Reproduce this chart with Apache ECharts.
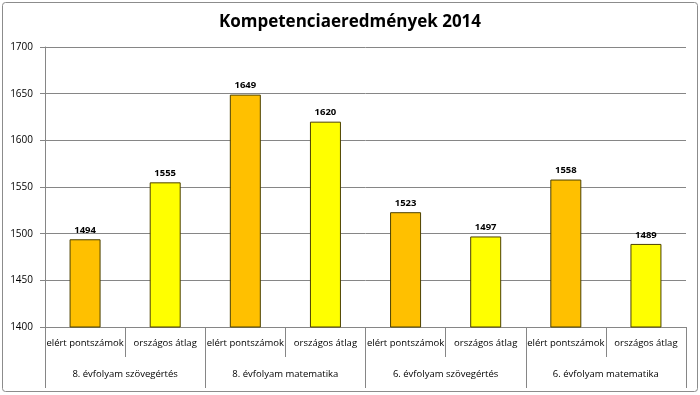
<!DOCTYPE html>
<html><head><meta charset="utf-8">
<script src="https://cdn.jsdelivr.net/npm/echarts@6/dist/echarts.min.js"></script>
<style>html,body{margin:0;padding:0;background:#fff}#c{width:700px;height:395px}</style>
</head><body><div id="c"></div>
<script>
const title = 'Kompetenciaeredmények 2014';
const subCategories = ['elért pontszámok','országos átlag','elért pontszámok','országos átlag','elért pontszámok','országos átlag','elért pontszámok','országos átlag'];
const groups = ['8. évfolyam szövegértés','8. évfolyam matematika','6. évfolyam szövegértés','6. évfolyam matematika'];
const values = [1494, 1555, 1649, 1620, 1523, 1497, 1558, 1489];
const barColors = ['#FFC000','#FFFF00'];

const font = '"Open Sans", "Noto Sans", sans-serif';
const chart = echarts.init(document.getElementById('c'), null, {renderer:'canvas'});
chart.setOption({
  animation:false,
  backgroundColor:'#fff',
  title:{text:title,left:'center',top:9,textStyle:{fontFamily:font,fontSize:17,fontWeight:'bold',color:'#000'}},
  graphic:[{type:'rect',shape:{x:2.5,y:2.5,width:695,height:389,r:3},style:{fill:'none',stroke:'#8c8c8c',lineWidth:1},z:-1}],
  grid:{left:45,right:14,top:47,bottom:68},
  xAxis:[{
    type:'category',data:subCategories,position:'bottom',
    axisLine:{show:true,lineStyle:{color:'#868686'}},
    axisTick:{show:true,alignWithLabel:false,interval:0,length:30,lineStyle:{color:'#868686'}},
    axisLabel:{interval:0,margin:11,fontFamily:font,fontSize:9.5,color:'#000'}
  },{
    type:'category',data:groups,position:'bottom',
    axisLine:{show:false},
    axisTick:{show:true,interval:0,length:61,lineStyle:{color:'#868686'}},
    axisLabel:{interval:0,margin:42,fontFamily:font,fontSize:9.5,color:'#000'}
  }],
  yAxis:{type:'value',min:1400,max:1700,interval:50,
    axisLine:{show:true,lineStyle:{color:'#868686'}},
    axisTick:{show:true,length:5,lineStyle:{color:'#868686'}},
    axisLabel:{margin:12,fontFamily:font,fontSize:10,color:'#000',formatter:v=>String(v)},
    splitLine:{lineStyle:{color:'#868686'}}},
  series:[{
    type:'bar',xAxisIndex:0,barWidth:31,
    data:values.map((v,i)=>({value:v,itemStyle:{color:barColors[i%2]}})),
    itemStyle:{borderColor:'#4d4200',borderWidth:1},
    label:{show:true,position:'top',distance:4,fontFamily:font,fontSize:9.5,fontWeight:'bold',color:'#000'}
  }]
});
</script></body></html>
